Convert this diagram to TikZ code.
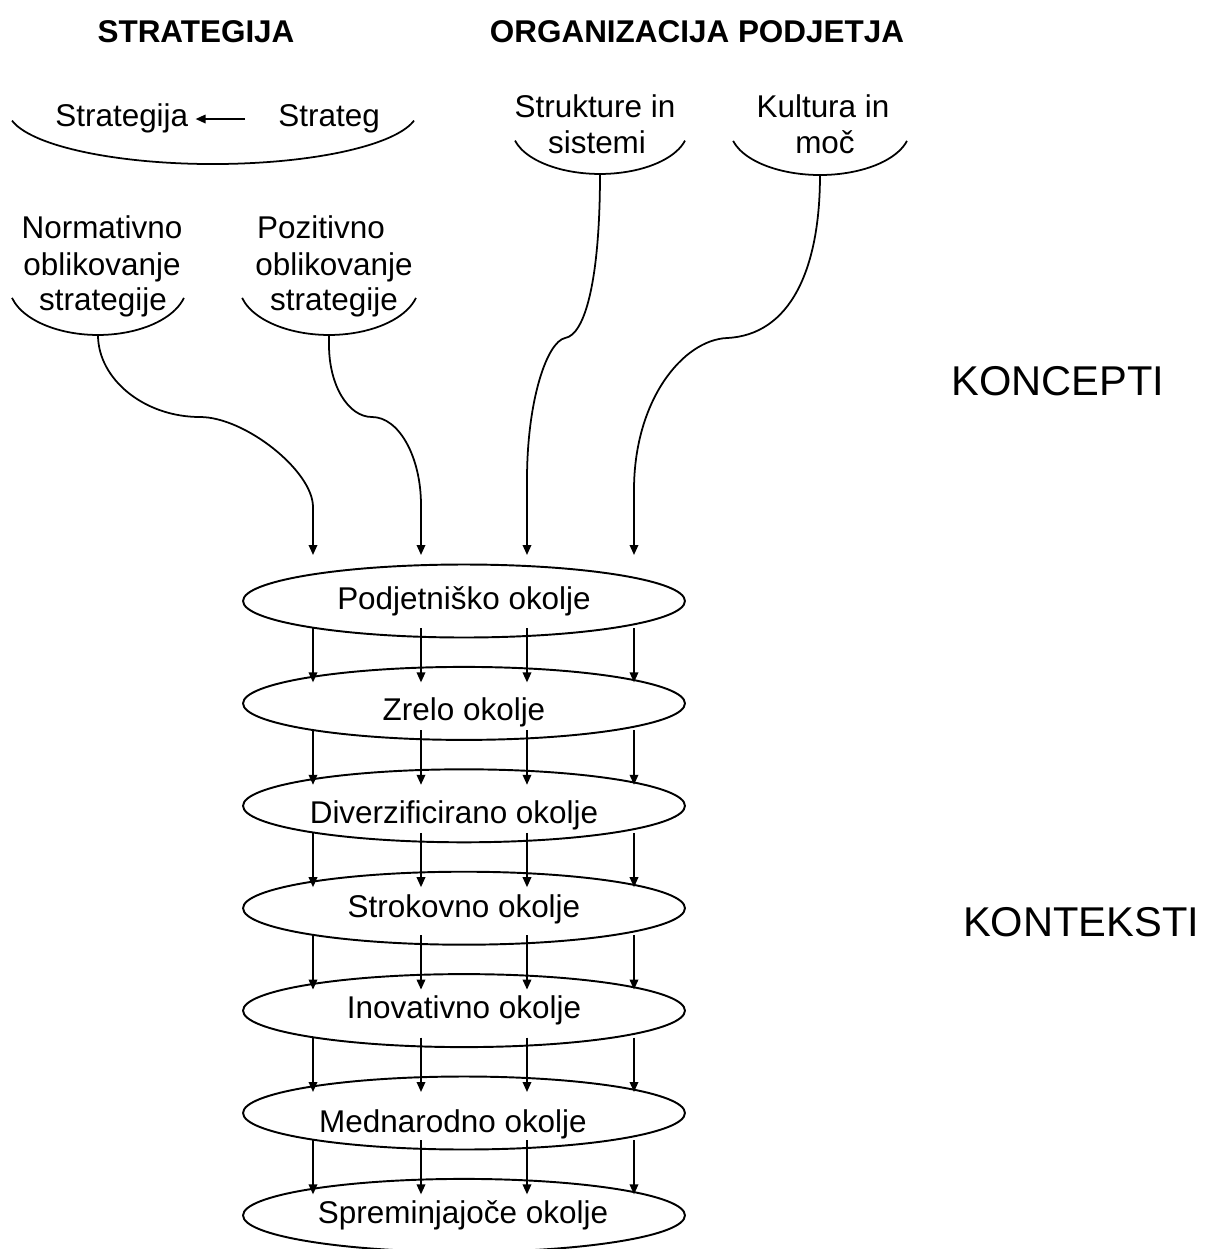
\documentclass[tikz,border=0pt]{standalone}
\usepackage{fontspec}
\setmainfont{Liberation Sans}
\usetikzlibrary{arrows.meta,calc,shapes.geometric}
\begin{document}
\begin{tikzpicture}[x=0.02cm,y=-0.02cm,
  txt/.style={inner sep=0pt, anchor=base, font=\fontsize{17.9pt}{20.4pt}\selectfont},
  head/.style={txt, font=\fontsize{17.9pt}{20.4pt}\selectfont\bfseries},
  big/.style={txt, font=\fontsize{23.7pt}{28pt}\selectfont},
  ctx/.style={draw, ellipse, line width=1.1pt, minimum width=8.84cm, minimum height=1.46cm, inner sep=0pt},
  bracket/.style={line width=1pt},
  arr/.style={line width=1pt, -{Triangle[length=0.2cm,width=0.17cm]}}
]
\useasboundingbox (0,0) rectangle (1211,1249);

% headings
\node[head] (hstrat) at (196,42) {STRATEGIJA};
\node[head] (horg) at (697,42) {ORGANIZACIJA PODJETJA};
\node[big] (hkon) at (1058,395) {KONCEPTI};
\node[big] (hkont) at (1081,936) {KONTEKSTI};

% strategy group
\node[txt, anchor=base west] (strategija) at (55,126) {Strategija};
\node[txt, anchor=base west] (strateg) at (278,126) {Strateg};
\draw[arr] ([shift={(-33,-7)}]strateg.base west) -- ([shift={(7,-7)}]strategija.base east);
\draw[bracket] (12,120.6) arc[start angle=168.7, end angle=11.3, x radius=205, y radius=54];

% organisation concepts
\node[txt] (str1) at (595,117) {Strukture in};
\node[txt] (str2) at (597,153) {sistemi};
\draw[bracket] (515,140.6) arc[start angle=165, end angle=15, x radius=88, y radius=45];
\coordinate (sb) at (600,174);

\node[txt] (kul1) at (823,117) {Kultura in};
\node[txt] (kul2) at (825,153) {moč};
\draw[bracket] (733.1,140.9) arc[start angle=165, end angle=15, x radius=90, y radius=46];
\coordinate (kb) at (820,175);

% strategy formation concepts
\node[txt] (nor1) at (102,238) {Normativno};
\node[txt] (nor2) at (102,275) {oblikovanje};
\node[txt] (nor3) at (103,310) {strategije};
\draw[bracket] (12,297.9) arc[start angle=165, end angle=15, x radius=89, y radius=50];
\coordinate (nb) at (98,335);

\node[txt] (poz1) at (321,238) {Pozitivno};
\node[txt] (poz2) at (334,275) {oblikovanje};
\node[txt] (poz3) at (334,310) {strategije};
\draw[bracket] (242.1,297.9) arc[start angle=165, end angle=15, x radius=90, y radius=50];
\coordinate (pb) at (329,335);

% contexts
\node[ctx] (e1) at (464,601) {};
\node[ctx] (e2) at (464,703.4) {};
\node[ctx] (e3) at (464,805.8) {};
\node[ctx] (e4) at (464,908.2) {};
\node[ctx] (e5) at (464,1010.6) {};
\node[ctx] (e6) at (464,1113) {};
\node[ctx] (e7) at (464,1215.4) {};

\node[txt] (t1) at (464,609) {Podjetniško okolje};
\node[txt] (t2) at (464,720) {Zrelo okolje};
\node[txt] (t3) at (454,823) {Diverzificirano okolje};
\node[txt] (t4) at (464,917) {Strokovno okolje};
\node[txt] (t5) at (464,1018) {Inovativno okolje};
\node[txt] (t6) at (453,1132) {Mednarodno okolje};
\node[txt] (t7) at (463,1223) {Spreminjajoče okolje};

% concepts flowing into the first context
\draw[arr] (nb) .. controls (98,379) and (144,417) .. (200,417)
  .. controls (245,417) and (313,471) .. (313,507) -- ($(e1.center)+(-151,-46)$);
\draw[arr] (pb) -- (329,345) .. controls (329,385) and (348,417) .. (372,417)
  .. controls (399,417) and (421,457) .. (421,505) -- ($(e1.center)+(-43,-46)$);
\draw[arr] (sb) .. controls (600,280) and (585,335) .. (565,338)
  .. controls (547,342) and (527,400) .. (527,480) -- ($(e1.center)+(63,-46)$);
\draw[arr] (kb) .. controls (820,270) and (790,335) .. (727,338)
  .. controls (683,340) and (634,400) .. (634,490) -- ($(e1.center)+(170,-46)$);

% contexts passing down
\foreach \a/\b in {e1/e2,e2/e3,e3/e4,e4/e5,e5/e6,e6/e7}
  \foreach \dx in {-151,-43,63,170}
    \draw[arr] ($(\a.center)+(\dx,27)$) -- ($(\b.center)+(\dx,-21)$);
\end{tikzpicture}
\end{document}
